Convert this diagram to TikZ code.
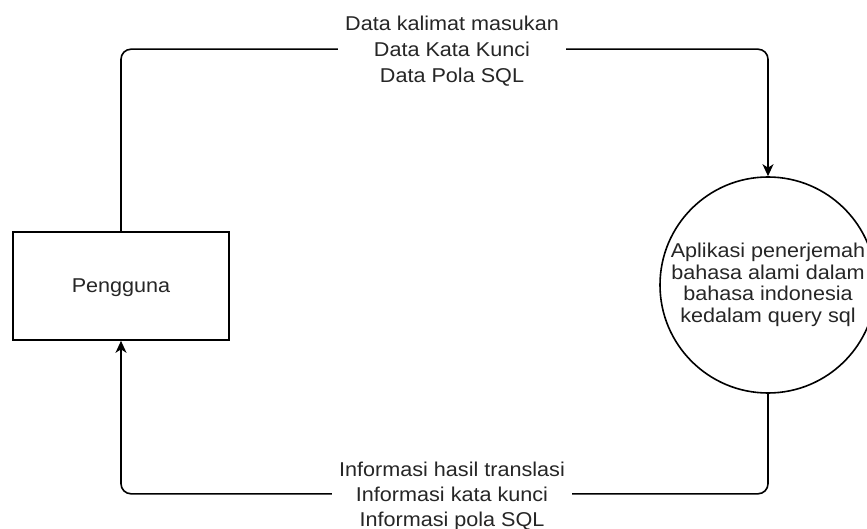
\documentclass[tikz,border=0pt]{standalone}
\usepackage{fontspec}
\setmainfont[FakeStretch=1.08]{Liberation Sans}
\usetikzlibrary{arrows.meta}
\begin{document}
\begin{tikzpicture}[x=1pt,y=-1pt,
  txt/.style={text=black!85},
  shapeline/.style={draw=black, line width=1.6pt},
  flow/.style={draw=black, line width=1.6pt, rounded corners=10pt, -{Stealth[length=12pt,width=11pt,inset=3.5pt]}},
  flowlabel/.style={txt, fill=white, inner xsep=7pt, inner ysep=0pt, align=center}]
\clip (0,0) rectangle (867,529);
\node[shapeline, txt, minimum width=216pt, minimum height=108pt, inner sep=0pt,
      text height=14pt, text depth=0pt, font=\fontsize{20}{24}\selectfont] (user) at (121,286) {Pengguna};
\node[shapeline, txt, circle, minimum size=216pt, inner sep=0pt, align=center,
      font=\fontsize{20}{21.5}\selectfont] (app) at (768,285)
      {Aplikasi penerjemah\\bahasa alami dalam\\bahasa indonesia\\kedalam query sql};
\draw[flow] (user.north) -- ++(0,-182) -| (app.north);
\draw[flow] (app.south) -- ++(0,100) -| (user.south);
\node[flowlabel, font=\fontsize{20}{26}\selectfont] (lbltop) at (452,51.5)
      {Data kalimat masukan\\Data Kata Kunci\\Data Pola SQL};
\node[flowlabel, font=\fontsize{20}{25}\selectfont] (lblbot) at (452,496)
      {Informasi hasil translasi\\Informasi kata kunci\\Informasi pola SQL};
\end{tikzpicture}
\end{document}
